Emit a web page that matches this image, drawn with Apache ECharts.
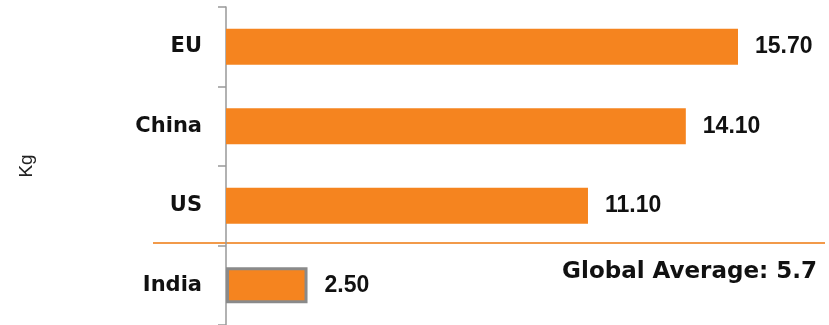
<!DOCTYPE html>
<html>
<head>
<meta charset="utf-8">
<script src="https://cdn.jsdelivr.net/npm/echarts@6/dist/echarts.min.js"></script>
<style>
  html, body { margin: 0; padding: 0; background: #fff; }
  #main { width: 829px; height: 325px; }
</style>
</head>
<body>
<div id="main"></div>
<script>
// data
var countries = ['EU', 'China', 'US', 'India'];
var kgValues = [15.70, 14.10, 11.10, 2.50];
var globalAverage = 5.7;
var unitName = 'Kg';

var barColor = '#F5841F';

var chartDom = document.getElementById('main');
var myChart = echarts.init(chartDom);

var seriesData = kgValues.map(function (v, i) {
    var item = { value: v };
    if (countries[i] === 'India') {
        // India bar has a grey outline
        item.itemStyle = { borderColor: '#8a8a8a', borderWidth: 3 };
    }
    return item;
});

var option = {
    animation: false,
    grid: {
        left: 226,
        top: 7,
        width: 587,
        height: 320
    },
    xAxis: {
        type: 'value',
        min: 0,
        max: 18,
        show: false
    },
    yAxis: {
        type: 'category',
        data: countries,
        inverse: true,
        name: unitName,
        nameLocation: 'middle',
        nameGap: 190,
        nameTextStyle: {
            fontFamily: 'Liberation Sans',
            fontSize: 19,
            color: '#222'
        },
        axisLine: {
            show: true,
            lineStyle: { color: '#999', width: 1.5 }
        },
        axisTick: {
            show: true,
            length: 8,
            lineStyle: { color: '#999', width: 1.5 }
        },
        axisLabel: {
            margin: 24,
            fontFamily: 'DejaVu Sans',
            fontWeight: 'bold',
            fontSize: 21,
            color: '#111'
        }
    },
    series: [
        {
            type: 'bar',
            data: seriesData,
            barWidth: 36,
            itemStyle: { color: barColor },
            label: {
                show: true,
                position: 'right',
                distance: 17,
                formatter: function (p) { return p.value.toFixed(2); },
                fontFamily: 'Liberation Sans',
                fontWeight: 'bold',
                fontSize: 23,
                color: '#111'
            }
        }
    ],
    graphic: [
        {
            // separator line above India
            type: 'line',
            shape: { x1: 153, y1: 243, x2: 825, y2: 243 },
            style: { stroke: '#F29A4A', lineWidth: 2 }
        },
        {
            type: 'text',
            right: 12,
            top: 261,
            style: {
                text: 'Global Average: ' + globalAverage,
                fontFamily: 'DejaVu Sans',
                fontWeight: 'bold',
                fontSize: 23,
                fill: '#111'
            }
        }
    ]
};

option && myChart.setOption(option);
window.addEventListener('resize', function () {
    myChart.resize();
});
</script>
</body>
</html>
